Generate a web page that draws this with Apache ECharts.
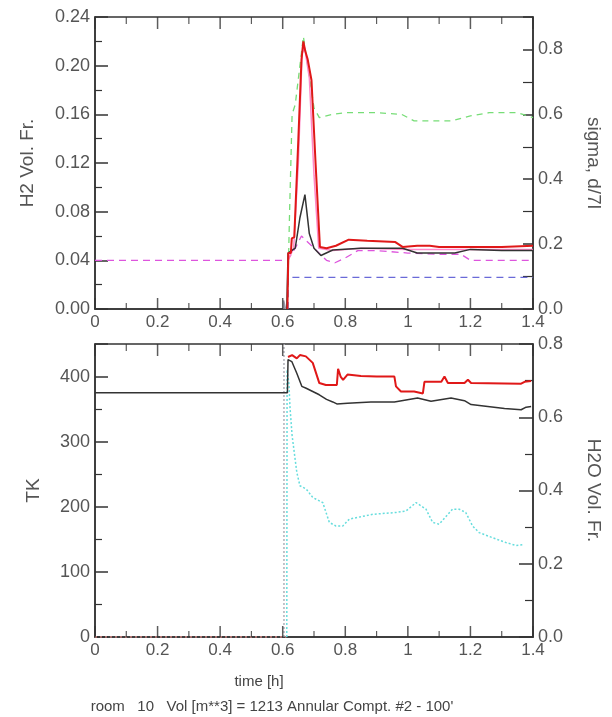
<!DOCTYPE html>
<html><head><meta charset="utf-8">
<script src="https://cdn.jsdelivr.net/npm/echarts@6/dist/echarts.min.js"></script>
<style>html,body{margin:0;padding:0;background:#fff}#c{width:612px;height:717px}</style>
</head><body><div id="c"></div>
<script>
// ---------- data: time [h] / value pairs ----------
const xMajorTicks = [0, 0.2, 0.4, 0.6, 0.8, 1, 1.2, 1.4];
const xMinorTicks = [0.1, 0.3, 0.5, 0.7, 0.9, 1.1, 1.3];

// top panel, left axis (H2 Vol. Fr.)
const h2Red = [[0.615,0],[0.618,0.046],[0.626,0.046],[0.629,0.058],[0.637,0.059],[0.65,0.14],[0.66,0.205],[0.666,0.22],[0.672,0.212],[0.68,0.205],[0.692,0.188],[0.705,0.12],[0.719,0.051],[0.74,0.05],[0.77,0.052],[0.811,0.057],[0.87,0.056],[0.96,0.055],[0.983,0.051],[1.03,0.052],[1.07,0.052],[1.1,0.051],[1.2,0.051],[1.3,0.051],[1.4,0.052]];
const h2Pink = [[0.617,0.04],[0.635,0.05],[0.65,0.12],[0.662,0.21],[0.67,0.215],[0.685,0.19],[0.7,0.11],[0.715,0.05],[0.76,0.048],[0.85,0.05],[1.0,0.049],[1.2,0.049],[1.4,0.049]];
const h2Black = [[0.613,0],[0.617,0.046],[0.64,0.05],[0.655,0.075],[0.671,0.094],[0.685,0.062],[0.7,0.05],[0.722,0.044],[0.76,0.0485],[0.85,0.05],[0.983,0.05],[1.03,0.046],[1.15,0.046],[1.2,0.049],[1.3,0.048],[1.4,0.048]];
const h2Magenta = [[0,0.04],[0.615,0.04],[0.64,0.05],[0.66,0.06],[0.7,0.05],[0.74,0.04],[0.767,0.038],[0.8,0.042],[0.84,0.048],[0.9,0.048],[1.0,0.046],[1.1,0.045],[1.17,0.045],[1.2,0.04],[1.4,0.04]];
const h2Blue = [[0.617,0],[0.617,0.026],[1.4,0.026]];
const h2Gray = [[0.603,0],[0.603,0.007],[0.609,0.007],[0.609,0]];
// top panel, right axis (sigma)
const sigmaGreen = [[0.615,0],[0.622,0.3],[0.63,0.6],[0.64,0.63],[0.655,0.75],[0.666,0.84],[0.68,0.75],[0.7,0.62],[0.717,0.59],[0.76,0.6],[0.8,0.605],[0.9,0.605],[0.98,0.6],[1.02,0.58],[1.1,0.58],[1.14,0.58],[1.2,0.595],[1.26,0.605],[1.35,0.605],[1.4,0.59]];

// bottom panel, left axis (TK)
const tkBlack = [[0,375],[0.615,375],[0.617,426],[0.629,423],[0.645,405],[0.661,385],[0.675,382],[0.696,377],[0.717,372],[0.74,365],[0.76,361],[0.773,358],[0.807,359],[0.882,361],[0.957,361],[1.031,367],[1.074,362],[1.138,367],[1.181,363],[1.202,357],[1.309,351],[1.362,349],[1.378,353],[1.394,354]];
const tkRed = [[0.617,430],[0.63,433],[0.645,428],[0.655,433],[0.674,431],[0.696,421],[0.717,390],[0.738,387],[0.773,387],[0.777,412],[0.785,400],[0.793,395],[0.807,403],[0.85,401],[0.9,400],[0.957,400],[0.962,385],[0.978,377],[1.02,377],[1.048,374],[1.053,392],[1.107,392],[1.117,400],[1.128,390],[1.181,390],[1.192,395],[1.202,390],[1.362,389],[1.373,392],[1.394,393]];
const tkGray = [[0.604,0],[0.604,450]];
// bottom panel, right axis (H2O Vol. Fr.)
const h2oCyan = [[0.613,0],[0.614,0.73],[0.62,0.69],[0.623,0.63],[0.63,0.55],[0.645,0.45],[0.655,0.413],[0.675,0.404],[0.696,0.381],[0.728,0.367],[0.749,0.313],[0.77,0.303],[0.792,0.303],[0.813,0.322],[0.888,0.335],[0.962,0.34],[0.994,0.344],[1.026,0.367],[1.058,0.349],[1.079,0.313],[1.1,0.308],[1.143,0.349],[1.164,0.349],[1.185,0.34],[1.207,0.303],[1.228,0.285],[1.271,0.271],[1.313,0.258],[1.345,0.25],[1.367,0.252]];
const h2oRedDot = [[0,0],[0.612,0]];

// ---------- chart ----------
const FONT = 'Liberation Sans';
const LBL = '#555';
const AX = '#333';
const TOP_MAX = 0.24, BOT_MAX = 450;
function xAx(grid) {
  return {type:'value', gridIndex:grid, position:'bottom', min:0, max:1.4, interval:0.2,
    axisLine:{show:true, onZero:false, lineStyle:{color:AX, width:1.5}},
    axisTick:{show:false}, minorTick:{show:false}, splitLine:{show:false},
    axisLabel:{show:true, color:LBL, fontSize:17, fontFamily:FONT, margin:5}};
}
function yAx(grid, pos, max, interval, dec, name, gap, rot, showMax, tickLen, minorLen) {
  return {type:'value', gridIndex:grid, position:pos, min:0, max:max, interval:interval,
    name:name, nameLocation:'middle', nameGap:gap, nameRotate:rot,
    nameTextStyle:{color:LBL, fontSize:19, fontFamily:FONT},
    axisLine:{show:true, onZero:false, lineStyle:{color:AX, width:1.5}},
    axisTick:{show:true, inside:true, length:tickLen, lineStyle:{color:AX, width:1.5}},
    minorTick:{show:true, splitNumber:2, length:minorLen, lineStyle:{color:AX, width:1.2}},
    splitLine:{show:false},
    axisLabel:{color:LBL, fontSize:18, fontFamily:FONT, margin:5, showMaxLabel:showMax,
      formatter: v => dec === null ? String(Math.round(v)) : v.toFixed(dec)}};
}
function line(data, xi, yi, color, width, type, z) {
  return {type:'line', data:data, xAxisIndex:xi, yAxisIndex:yi, showSymbol:false, symbol:'none',
    animation:false, z:z||2, lineStyle:{color:color, width:width, type:type||'solid'}};
}
// x tick marks on the bottom and top frame edges, pointing inward, placed through the x scale
function tickMarks(xi, yi, values, yv, len, w, fromTop) {
  return {type:'scatter', xAxisIndex:xi, yAxisIndex:yi, data:values.map(v => [v, yv]),
    symbol:'rect', symbolSize:[w, len], symbolOffset:[0, fromTop ? len/2 : -len/2],
    itemStyle:{color:AX}, clip:false, silent:true, z:6, animation:false};
}
const chart = echarts.init(document.getElementById('c'), null, {renderer:'canvas'});
chart.setOption({
  backgroundColor:'#fff',
  animation:false,
  tooltip:{show:false},
  grid:[
    {left:95, top:17, width:438, height:292, show:true, borderColor:AX, borderWidth:1.5, outerBoundsMode:'none', containLabel:false},
    {left:95, top:344, width:438, height:293, show:true, borderColor:AX, borderWidth:1.5, outerBoundsMode:'none', containLabel:false}
  ],
  xAxis:[xAx(0), xAx(1)],
  yAxis:[
    yAx(0,'left',TOP_MAX,0.04,2,'H2 Vol. Fr.',58,90,true,13,7),
    yAx(0,'right',0.9,0.2,1,'sigma, d/7l',51,-90,false,10,10),
    yAx(1,'left',BOT_MAX,100,null,'TK',52,90,false,13,7),
    yAx(1,'right',0.8,0.2,1,'H2O Vol. Fr.',51,-90,true,14,8)
  ],
  series:[
    tickMarks(0,0,xMajorTicks,0,11,1.5,false),
    tickMarks(0,0,xMinorTicks,0,6,1.2,false),
    tickMarks(0,0,xMajorTicks,TOP_MAX,12,1.5,true),
    tickMarks(0,0,xMinorTicks,TOP_MAX,7,1.2,true),
    tickMarks(1,2,xMajorTicks,0,11,1.5,false),
    tickMarks(1,2,xMinorTicks,0,6,1.2,false),
    tickMarks(1,2,xMajorTicks,BOT_MAX,12,1.5,true),
    tickMarks(1,2,xMinorTicks,BOT_MAX,7,1.2,true),
    line(h2Gray,0,0,'#9a9aa8',1.5,'solid',1),
    line(sigmaGreen,0,1,'#77dd77',1.3,[6,5],2),
    line(h2Blue,0,0,'#6a6ad8',1.3,[7,5],2),
    line(h2Magenta,0,0,'#dd55dd',1.3,[7,5],3),
    line(h2Pink,0,0,'#ff88c8',1.5,'solid',3),
    line(h2Black,0,0,'#333333',1.5,'solid',4),
    line(h2Red,0,0,'#e01818',2,'solid',5),
    line(tkGray,1,2,'#b0b0b8',1.5,[2,2],1),
    line(h2oRedDot,1,3,'#e08a8a',1.5,[2,3],2),
    line(h2oCyan,1,3,'#66dddd',1.5,[2,2],3),
    line(tkBlack,1,2,'#333333',1.5,'solid',4),
    line(tkRed,1,2,'#e01818',2,'solid',5)
  ],
  graphic:[
    {type:'text', x:259, y:682, style:{text:'time [h]', fill:'#444', font:'15px "Liberation Sans"', textAlign:'center', textVerticalAlign:'middle'}},
    {type:'text', x:272, y:707, style:{text:"room   10   Vol [m**3] = 1213 Annular Compt. #2 - 100'", fill:'#444', font:'15px "Liberation Sans"', textAlign:'center', textVerticalAlign:'middle'}}
  ]
});
</script></body></html>
